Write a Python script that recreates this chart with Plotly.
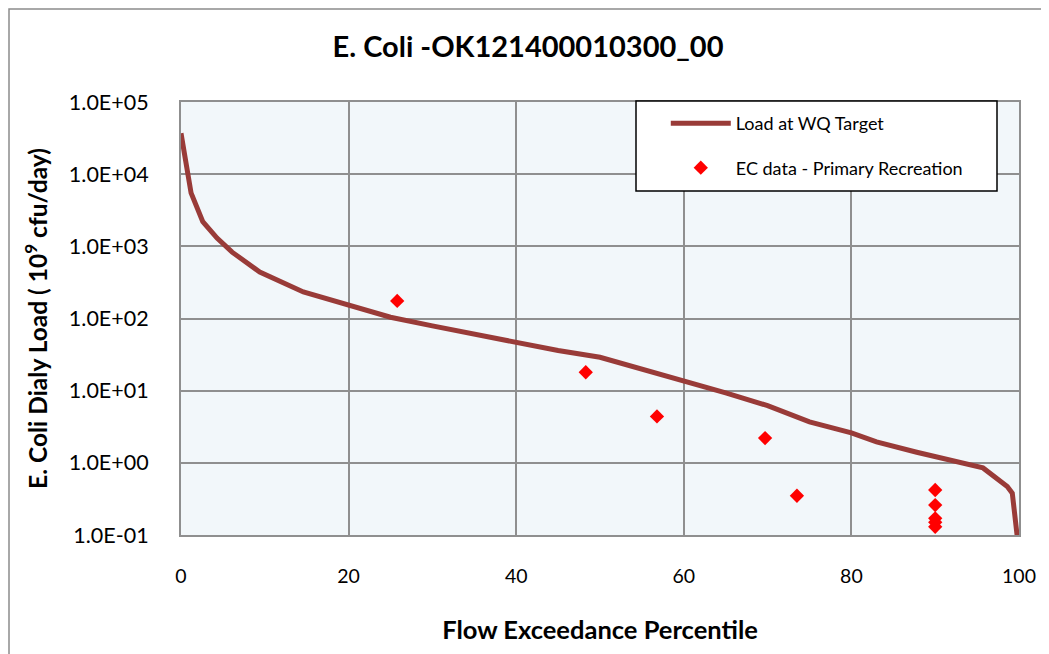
import plotly.graph_objects as go

# Load duration curve (Load at WQ Target)
curve_x = [0, 1.2, 2.6, 4.3, 6.1, 9.4, 14.6, 20.2, 25, 30, 35, 40, 45, 50, 55, 60, 65, 70, 75, 80, 83, 87.8, 92.6, 95.7, 98.6, 99.2, 99.8]
curve_y = [37000, 5500, 2200, 1300, 830, 440, 233, 154, 104, 79, 60, 46, 36, 29, 20, 13.5, 9.3, 6.2, 3.7, 2.6, 1.95, 1.4, 1.02, 0.85, 0.47, 0.38, 0.093]

# EC data - Primary Recreation
pts_x = [25.8, 48.3, 56.8, 69.7, 73.5, 90, 90, 90, 90, 90]
pts_y = [175, 18, 4.4, 2.2, 0.35, 0.42, 0.26, 0.17, 0.15, 0.13]

ytick_vals = [0.1, 1, 10, 100, 1000, 10000, 100000]
ytick_text = ["1.0E-01", "1.0E+00", "1.0E+01", "1.0E+02", "1.0E+03", "1.0E+04", "1.0E+05"]
xtick_vals = [0, 20, 40, 60, 80, 100]

FONT = "Lato, 'Open Sans', sans-serif"

# page has an 8px body margin, so the figure is sized/placed to compensate
W, H = 1041, 646
L, T, B = 173, 94, 119
PW, PH = 838, 433

fig = go.Figure()
fig.add_trace(go.Scatter(
    x=curve_x, y=curve_y, mode="lines", name="Load at WQ Target",
    line=dict(color="#993B38", width=5), legendgroup="a"))
fig.add_trace(go.Scatter(
    x=pts_x, y=pts_y, mode="markers", name="EC data - Primary Recreation",
    marker=dict(symbol="diamond", color="#FF0000", size=11), legendgroup="b"))

fig.update_layout(
    width=W, height=H,
    margin=dict(l=L, r=W - L - PW, t=T, b=B),
    paper_bgcolor="white", plot_bgcolor="#F2F7FA",
    font=dict(family=FONT, size=18, color="black"),
    title=dict(text="<b>E. Coli -OK121400010300_00</b>", x=(528 - 8) / W, xanchor="center",
               y=1 - (47 - 8) / H, yanchor="middle", font=dict(size=29, family=FONT)),
    showlegend=True,
    legend=dict(x=0.5785, y=0.993, xanchor="left", yanchor="top",
                bgcolor="rgba(0,0,0,0)", borderwidth=0,
                font=dict(size=18, family=FONT), traceorder="grouped",
                tracegroupgap=18, itemwidth=60),
    shapes=[
        dict(type="rect", xref="paper", yref="paper",
             x0=(636 - 181) / PW, x1=(997 - 181) / PW,
             y0=(535 - 191) / PH, y1=(535 - 101) / PH,
             line=dict(color="black", width=1.5), fillcolor="white", layer="above"),
        dict(type="rect", xref="paper", yref="paper",
             x0=(1 - L) / PW, x1=(1037 - L) / PW,
             y0=-(H + 20 - T - PH) / PH, y1=(T + PH - 1) / PH,
             line=dict(color="#8C8C8C", width=1.5), fillcolor="rgba(0,0,0,0)", layer="below"),
    ],
)
fig.update_xaxes(
    range=[0, 100], tickvals=xtick_vals, showgrid=True, gridcolor="#8F8F8F", gridwidth=1.5,
    showline=True, linecolor="#8F8F8F", linewidth=2, mirror=True, zeroline=False,
    ticks="", ticklabelstandoff=23, tickfont=dict(size=19.5),
    title=dict(text="<b>Flow Exceedance Percentile</b>", font=dict(size=25.5), standoff=35),
)
fig.update_yaxes(
    type="log", range=[-1, 5], tickvals=ytick_vals, ticktext=ytick_text,
    showgrid=True, gridcolor="#8F8F8F", gridwidth=1.5,
    showline=True, linecolor="#8F8F8F", linewidth=2, mirror=True, zeroline=False,
    ticks="", ticklabelstandoff=26, tickfont=dict(size=21.5),
    title=dict(text="<b>E. Coli Dialy Load ( 10<sup>9</sup> cfu/day)</b>", font=dict(size=24.5), standoff=14),
)

fig.write_html("out.html")
